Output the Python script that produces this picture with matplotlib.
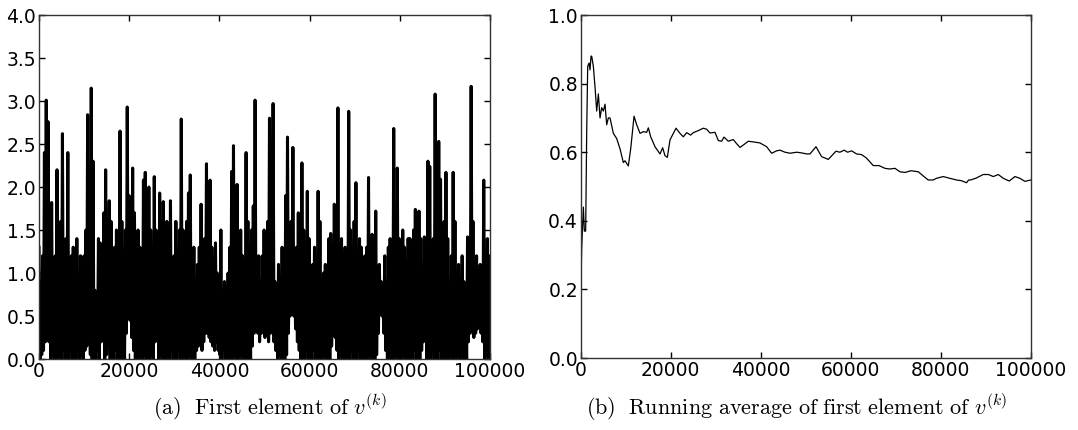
import numpy as np
import matplotlib
matplotlib.use("Agg")
import matplotlib.pyplot as plt

# (a) first element of v^(k): upper and lower envelope of the trace,
# read off the picture every 400 iterations
first_hi = [
    1.3, 0.9, 1.2, 2.4, 3.01, 2.76, 1.0, 1.82, 0.8, 1.2,
    2.2, 0.9, 1.6, 2.62, 1.0, 1.4, 2.4, 0.8, 1.2, 1.3,
    0.9, 1.4, 0.7, 1.2, 0.6, 1.2, 1.5, 2.84, 1.0, 3.15,
    2.3, 0.8, 0.7, 1.4, 1.35, 0.9, 1.7, 2.2, 0.8, 1.84,
    1.6, 0.7, 1.3, 1.5, 0.9, 2.65, 1.6, 0.8, 1.5, 2.93,
    1.9, 1.0, 2.22, 1.7, 0.8, 1.5, 1.3, 0.9, 2.08, 2.17,
    1.0, 2.0, 1.5, 0.8, 2.12, 1.5, 0.9, 1.93, 1.6, 1.83,
    0.9, 1.6, 1.3, 1.84, 0.8, 1.2, 1.6, 0.9, 1.5, 2.79,
    1.5, 0.8, 1.6, 1.93, 2.14, 1.0, 1.3, 0.7, 1.1, 1.3,
    1.8, 0.9, 1.4, 2.27, 1.0, 2.08, 1.3, 0.7, 1.35, 1.0,
    0.8, 1.5, 0.7, 0.9, 0.6, 1.0, 1.3, 2.18, 2.48, 1.0,
    2.03, 0.8, 1.5, 1.2, 0.7, 2.4, 1.6, 0.8, 1.5, 1.78,
    3.01, 1.0, 1.2, 0.7, 1.2, 1.5, 0.8, 1.6, 2.8, 1.8,
    2.97, 0.9, 0.6, 1.1, 0.8, 1.3, 0.9, 1.9, 2.58, 1.0,
    1.6, 2.46, 0.9, 1.3, 1.7, 0.8, 2.28, 1.5, 0.9, 1.95,
    1.4, 0.8, 1.1, 1.3, 0.7, 1.95, 1.6, 0.9, 1.0, 1.1,
    0.7, 1.4, 1.46, 0.8, 1.8, 1.5, 2.92, 0.9, 1.4, 0.7,
    1.3, 0.8, 2.88, 1.5, 0.9, 1.6, 2.05, 0.8, 1.4, 1.3,
    0.9, 1.2, 1.3, 2.11, 0.9, 1.45, 1.4, 1.72, 0.8, 1.1,
    0.9, 0.7, 1.2, 0.8, 1.3, 1.4, 0.9, 2.68, 1.5, 2.22,
    1.4, 0.8, 1.5, 1.3, 0.9, 1.4, 1.4, 0.8, 1.5, 1.74,
    1.0, 1.72, 1.4, 0.8, 1.42, 1.3, 2.3, 2.24, 0.9, 1.4,
    3.08, 1.8, 2.53, 2.09, 0.9, 1.6, 2.17, 1.4, 0.8, 1.2,
    2.17, 1.6, 0.8, 1.1, 0.7, 1.2, 0.9, 0.6, 1.42, 1.3,
    3.17, 1.6, 0.8, 1.2, 0.6, 1.1, 0.9, 2.08, 0.8, 1.4,
    1.2,
]
first_lo = [
    0.0, 0.05, 0.1, 0.2, 0.3, 0.2, 0.0, 0.05, 0.0, 0.1,
    0.0, 0.05, 0.0, 0.1, 0.0, 0.05, 0.0, 0.1, 0.0, 0.05,
    0.0, 0.1, 0.0, 0.05, 0.0, 0.1, 0.15, 0.25, 0.05, 0.0,
    0.05, 0.0, 0.1, 0.0, 0.2, 0.25, 0.0, 0.05, 0.2, 0.0,
    0.05, 0.0, 0.1, 0.0, 0.05, 0.0, 0.1, 0.0, 0.3, 0.5,
    0.45, 0.25, 0.1, 0.0, 0.05, 0.0, 0.1, 0.0, 0.05, 0.0,
    0.1, 0.0, 0.05, 0.0, 0.2, 0.3, 0.0, 0.05, 0.0, 0.1,
    0.0, 0.05, 0.0, 0.1, 0.0, 0.05, 0.0, 0.1, 0.0, 0.05,
    0.0, 0.1, 0.0, 0.05, 0.0, 0.1, 0.0, 0.1, 0.15, 0.2,
    0.1, 0.2, 0.3, 0.3, 0.25, 0.2, 0.15, 0.1, 0.2, 0.1,
    0.05, 0.0, 0.1, 0.0, 0.05, 0.0, 0.1, 0.0, 0.05, 0.0,
    0.1, 0.0, 0.05, 0.0, 0.1, 0.0, 0.05, 0.0, 0.15, 0.3,
    0.35, 0.3, 0.2, 0.3, 0.35, 0.25, 0.3, 0.2, 0.3, 0.35,
    0.2, 0.1, 0.0, 0.05, 0.0, 0.1, 0.0, 0.05, 0.3, 0.5,
    0.6, 0.5, 0.35, 0.2, 0.1, 0.0, 0.05, 0.0, 0.1, 0.0,
    0.05, 0.0, 0.1, 0.0, 0.05, 0.0, 0.1, 0.0, 0.05, 0.0,
    0.1, 0.0, 0.15, 0.3, 0.25, 0.1, 0.0, 0.05, 0.0, 0.1,
    0.0, 0.05, 0.0, 0.1, 0.0, 0.05, 0.0, 0.1, 0.0, 0.05,
    0.0, 0.1, 0.0, 0.05, 0.0, 0.1, 0.0, 0.05, 0.3, 0.55,
    0.5, 0.3, 0.1, 0.0, 0.05, 0.0, 0.1, 0.0, 0.05, 0.0,
    0.1, 0.0, 0.05, 0.0, 0.1, 0.0, 0.05, 0.0, 0.1, 0.0,
    0.05, 0.0, 0.1, 0.2, 0.25, 0.0, 0.05, 0.0, 0.1, 0.0,
    0.05, 0.0, 0.1, 0.0, 0.05, 0.0, 0.1, 0.0, 0.05, 0.0,
    0.1, 0.0, 0.05, 0.0, 0.1, 0.0, 0.05, 0.0, 0.2, 0.3,
    0.35, 0.25, 0.3, 0.35, 0.4, 0.3, 0.2, 0.0, 0.05, 0.0,
    0.5,
]

# (b) running average, read at these iterations
avg_iter = [
    0, 215, 590, 810, 1100, 1330, 1550, 1850, 2070, 2290, 2440, 2810, 3180,
    3550, 3920, 4290, 4660, 5030, 5400, 5770, 6140, 6510, 7250, 7990, 8730,
    9470, 9840, 10580, 11110, 11850, 12440, 13180, 13920, 14660, 15030,
    15550, 16510, 17620, 18210, 18730, 19250, 19840, 21180, 22060, 22800,
    23550, 24430, 25030, 26140, 27250, 27990, 28730, 29840, 30580, 31320,
    31840, 32800, 33910, 34510, 35400, 36140, 37250, 38360, 39840, 41320,
    42430, 43540, 44290, 45400, 46510, 47990, 49100, 50210, 50950, 52290,
    53540, 55020, 56730, 57600, 58580, 59300, 60210, 61300, 62430, 63500,
    65020, 66300, 67610, 68700, 69830, 70940, 72100, 73400, 75020, 76100,
    77240, 78300, 79090, 80570, 82000, 83520, 84600, 85750, 86200, 86630,
    87800, 89450, 90600, 91690, 92800, 93900, 95240, 96500, 97600, 98720,
    100000,
]
avg_val = [
    0.18, 0.32, 0.44, 0.37, 0.37, 0.66, 0.85, 0.86, 0.84, 0.88, 0.88, 0.85,
    0.79, 0.72, 0.77, 0.70, 0.73, 0.72, 0.74, 0.68, 0.70, 0.70, 0.655, 0.64,
    0.61, 0.57, 0.575, 0.56, 0.61, 0.705, 0.68, 0.655, 0.66, 0.658, 0.671,
    0.645, 0.616, 0.595, 0.613, 0.59, 0.585, 0.636, 0.67, 0.655, 0.645,
    0.657, 0.65, 0.657, 0.663, 0.67, 0.667, 0.656, 0.658, 0.634, 0.632,
    0.644, 0.632, 0.637, 0.627, 0.614, 0.621, 0.632, 0.63, 0.627, 0.616,
    0.597, 0.604, 0.606, 0.60, 0.597, 0.60, 0.598, 0.595, 0.595, 0.616,
    0.587, 0.579, 0.603, 0.60, 0.606, 0.60, 0.604, 0.595, 0.593, 0.583,
    0.561, 0.561, 0.553, 0.551, 0.553, 0.543, 0.541, 0.546, 0.543, 0.531,
    0.519, 0.519, 0.524, 0.529, 0.524, 0.519, 0.517, 0.511, 0.519, 0.519,
    0.524, 0.535, 0.535, 0.529, 0.535, 0.524, 0.516, 0.529, 0.524, 0.515,
    0.519,
]

x_ticks = [0, 20000, 40000, 60000, 80000, 100000]
caption_a = r"$\mathrm{(a)\ \ First\ element\ of}\ v^{(k)}$"
caption_b = r"$\mathrm{(b)\ \ Running\ average\ of\ first\ element\ of}\ v^{(k)}$"

plt.rcParams["mathtext.fontset"] = "cm"
plt.rcParams["font.family"] = "DejaVu Sans"

fig = plt.figure(figsize=(10.78, 4.30), dpi=100)
ax1 = fig.add_axes([0.0362, 0.1651, 0.4184, 0.8000])
ax2 = fig.add_axes([0.5387, 0.1674, 0.4174, 0.7977])

# the trace swings between its envelopes every ~200 iterations
trace = np.empty(2 * len(first_hi))
trace[0::2] = first_hi
trace[1::2] = first_lo
k = np.linspace(0, 100000, len(trace))
ax1.plot(k, trace, color="black", lw=2.2)
ax1.set_ylim(0, 4.0)
ax1.set_yticks(np.arange(0, 4.01, 0.5))

ax2.plot(avg_iter, avg_val, color="black", lw=0.9)
ax2.set_ylim(0, 1.0)
ax2.set_yticks(np.arange(0, 1.01, 0.2))

for ax in (ax1, ax2):
    ax.set_xlim(0, 100000)
    ax.set_xticks(x_ticks)
    ax.tick_params(direction="in", top=True, right=True, length=4,
                   width=1, labelsize=13.5, pad=2)
    for sp in ax.spines.values():
        sp.set_linewidth(1.0)
        sp.set_color("#333333")

fig.text(0.250, 0.051, caption_a, ha="center", va="center", fontsize=16)
fig.text(0.739, 0.051, caption_b, ha="center", va="center", fontsize=16)

fig.savefig("out.png", dpi=100)
